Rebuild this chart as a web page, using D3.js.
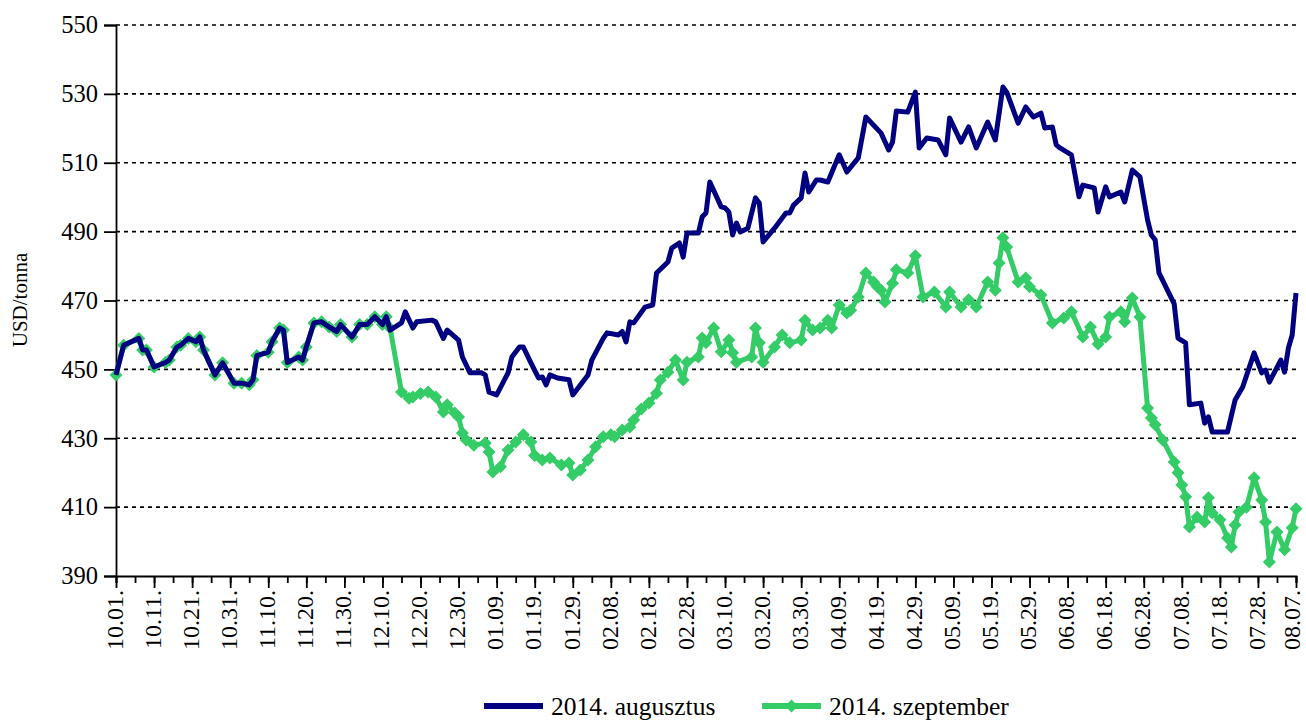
<!DOCTYPE html>
<html>
<head>
<meta charset="utf-8">
<script src="https://cdn.jsdelivr.net/npm/d3@7"></script>
<style>
  body { margin: 0; background: #fff; }
  text { font-family: "Liberation Serif", "Times New Roman", serif; fill: #000; }
</style>
</head>
<body>
<svg id="chart" width="1306" height="720"></svg>
<script>
// values (USD/tonna)
const augusztus = [
  ["2013-10-01",448.4],["2013-10-03",457],["2013-10-07",459],["2013-10-08",455.6],["2013-10-09",455.6],
  ["2013-10-11",450.7],["2013-10-14",452],["2013-10-15",452.7],["2013-10-17",456.5],["2013-10-18",457],
  ["2013-10-20",459],["2013-10-22",458],["2013-10-23",459.4],["2013-10-24",455.6],["2013-10-27",448.4],
  ["2013-10-29",451.9],["2013-11-01",446],["2013-11-03",446],["2013-11-05",445.5],["2013-11-06",447],
  ["2013-11-07",454],["2013-11-10",455],["2013-11-11",458],["2013-11-13",462],["2013-11-14",461.4],
  ["2013-11-15",452],["2013-11-18",453.6],["2013-11-19",452.7],["2013-11-20",456.5],["2013-11-22",463.5],
  ["2013-11-24",463.8],["2013-11-26",462.3],["2013-11-28",461],["2013-11-29",463],["2013-12-02",459.4],
  ["2013-12-04",463],["2013-12-06",463],["2013-12-08",465.3],["2013-12-10",463],["2013-12-11",465.3],
  ["2013-12-12",461.4],["2013-12-15",463.5],["2013-12-16",466.7],["2013-12-18",462],["2013-12-19",463.8],
  ["2013-12-23",464.3],["2013-12-24",463.8],["2013-12-26",459],["2013-12-27",461.4],["2013-12-30",458.5],
  ["2013-12-31",453.6],["2014-01-02",449],["2014-01-05",449],["2014-01-06",448.4],["2014-01-07",443.4],
  ["2014-01-09",442.6],["2014-01-12",449],["2014-01-13",453.6],["2014-01-15",456.5],["2014-01-16",456.5],
  ["2014-01-18",451.9],["2014-01-20",447.5],["2014-01-21",447.8],["2014-01-22",445.5],["2014-01-23",448.4],
  ["2014-01-25",447.5],["2014-01-28",447],["2014-01-29",442.6],["2014-01-30",444],["2014-02-02",448.4],
  ["2014-02-03",452.7],["2014-02-04",454.8],["2014-02-06",459],["2014-02-07",460.6],["2014-02-10",460],
  ["2014-02-11",461],["2014-02-12",458],["2014-02-13",463.8],["2014-02-14",463.5],["2014-02-17",468.1],
  ["2014-02-19",468.7],["2014-02-20",478],["2014-02-23",481.2],["2014-02-24",485.2],["2014-02-26",486.7],
  ["2014-02-27",482.6],["2014-02-28",489.6],["2014-03-03",489.6],["2014-03-04",494.3],["2014-03-05",495.4],
  ["2014-03-06",504.4],["2014-03-09",497.2],["2014-03-10",496.9],["2014-03-11",495.7],["2014-03-12",489],
  ["2014-03-13",492.5],["2014-03-14",489.9],["2014-03-16",491],["2014-03-18",499.8],["2014-03-19",498.3],
  ["2014-03-20",487],["2014-03-23",491],["2014-03-26",495.4],["2014-03-27",495.4],["2014-03-28",497.7],
  ["2014-03-30",499.8],["2014-03-31",507],["2014-04-01",501.5],["2014-04-03",505],["2014-04-04",505],
  ["2014-04-06",504.4],["2014-04-09",512.3],["2014-04-11",507.3],["2014-04-14",511.4],["2014-04-16",523.3],
  ["2014-04-20",518.6],["2014-04-22",513.7],["2014-04-23",516],["2014-04-24",525],["2014-04-27",524.7],
  ["2014-04-29",530.5],["2014-04-30",514.3],["2014-05-02",517.2],["2014-05-05",516.6],["2014-05-07",512.3],
  ["2014-05-08",523],["2014-05-11",516],["2014-05-13",520.4],["2014-05-15",514.3],["2014-05-18",521.8],
  ["2014-05-20",516.6],["2014-05-22",532],["2014-05-23",530.5],["2014-05-26",521.5],["2014-05-28",526.2],
  ["2014-05-30",523.3],["2014-06-01",524.4],["2014-06-02",520.1],["2014-06-04",520.4],["2014-06-05",515.2],
  ["2014-06-06",514.3],["2014-06-09",512.3],["2014-06-11",500.1],["2014-06-12",503.5],["2014-06-15",502.7],
  ["2014-06-16",495.7],["2014-06-18",503],["2014-06-19",500.1],["2014-06-22",501.5],["2014-06-23",498.6],
  ["2014-06-25",507.9],["2014-06-27",505.9],["2014-06-29",493.4],["2014-06-30",489],["2014-07-01",487.6],
  ["2014-07-02",478],["2014-07-06",469],["2014-07-07",459.1],["2014-07-09",457.7],["2014-07-10",439.7],
  ["2014-07-13",440.2],["2014-07-14",434.4],["2014-07-15",436.2],["2014-07-16",431.8],["2014-07-20",431.8],
  ["2014-07-22",441.1],["2014-07-24",444.9],["2014-07-27",454.8],["2014-07-29",449],["2014-07-30",449.8],
  ["2014-07-31",446.3],["2014-08-03",452.7],["2014-08-04",449.2],["2014-08-05",456.2],["2014-08-06",460],
  ["2014-08-07",472.2]
];

const szeptember = [
  ["2013-10-01",448.4],["2013-10-03",457],["2013-10-07",459],["2013-10-08",455.6],["2013-10-09",455.6],
  ["2013-10-11",450.7],["2013-10-14",452],["2013-10-15",452.7],["2013-10-17",456.5],["2013-10-18",457],
  ["2013-10-20",459],["2013-10-22",458],["2013-10-23",459.4],["2013-10-24",455.6],["2013-10-27",448.4],
  ["2013-10-29",451.9],["2013-11-01",446],["2013-11-03",446],["2013-11-05",445.5],["2013-11-06",447],
  ["2013-11-07",454],["2013-11-10",455],["2013-11-11",458],["2013-11-13",462],["2013-11-14",461.4],
  ["2013-11-15",452],["2013-11-18",453.6],["2013-11-19",452.7],["2013-11-20",456.5],["2013-11-22",463.5],
  ["2013-11-24",463.8],["2013-11-26",462.3],["2013-11-28",461],["2013-11-29",463],["2013-12-02",459.4],
  ["2013-12-04",463],["2013-12-06",463],["2013-12-08",465.3],["2013-12-10",463],["2013-12-11",465.3],
  ["2013-12-12",462],["2013-12-15",443.4],["2013-12-17",441.6],["2013-12-18",442],["2013-12-20",443],
  ["2013-12-22",443.4],["2013-12-24",442],["2013-12-26",437.6],["2013-12-27",439.7],["2013-12-29",437.3],
  ["2013-12-30",436.2],["2013-12-31",431.5],["2014-01-01",429.5],["2014-01-03",428],["2014-01-06",428.6],
  ["2014-01-07",426],["2014-01-08",420.2],["2014-01-10",421.7],["2014-01-12",426.6],["2014-01-14",428.9],
  ["2014-01-16",431],["2014-01-18",428.9],["2014-01-19",425],["2014-01-21",423.7],["2014-01-23",424.3],
  ["2014-01-26",422.2],["2014-01-28",422.8],["2014-01-29",419.3],["2014-01-31",420.8],["2014-02-02",423.7],
  ["2014-02-04",427.5],["2014-02-06",430.4],["2014-02-08",431],["2014-02-09",430.4],["2014-02-11",432.4],
  ["2014-02-13",433.3],["2014-02-14",435.3],["2014-02-16",438.5],["2014-02-18",440.2],["2014-02-20",443.1],
  ["2014-02-21",446.9],["2014-02-23",449.2],["2014-02-25",452.7],["2014-02-27",446.9],["2014-02-28",452.1],
  ["2014-03-03",453.6],["2014-03-04",459.1],["2014-03-05",457.7],["2014-03-07",462],["2014-03-09",455.1],
  ["2014-03-11",458.5],["2014-03-12",454.8],["2014-03-13",452.1],["2014-03-17",453.6],["2014-03-18",462],
  ["2014-03-19",457.7],["2014-03-20",452.1],["2014-03-23",456.5],["2014-03-25",460],["2014-03-27",457.7],
  ["2014-03-30",458.5],["2014-03-31",464.3],["2014-04-02",461.4],["2014-04-04",462],["2014-04-06",464.3],
  ["2014-04-07",462],["2014-04-09",468.7],["2014-04-11",466.4],["2014-04-12",467.2],["2014-04-14",471],
  ["2014-04-16",478],["2014-04-18",475.4],["2014-04-19",474],["2014-04-20",473],["2014-04-21",469.6],
  ["2014-04-23",475],["2014-04-24",478.9],["2014-04-27",478],["2014-04-29",483],["2014-05-01",471],
  ["2014-05-04",472.5],["2014-05-07",468.1],["2014-05-08",472.5],["2014-05-11",468.1],["2014-05-13",470.2],
  ["2014-05-15",468.1],["2014-05-18",475.4],["2014-05-20",473],["2014-05-21",480.9],["2014-05-22",488.2],
  ["2014-05-23",485.5],["2014-05-26",475.4],["2014-05-28",476.5],["2014-05-29",474],["2014-06-01",471.6],
  ["2014-06-04",463.5],["2014-06-07",464.9],["2014-06-09",466.7],["2014-06-12",459.4],["2014-06-14",462.3],
  ["2014-06-16",457.4],["2014-06-18",459.4],["2014-06-19",465.2],["2014-06-22",466.7],["2014-06-23",463.8],
  ["2014-06-25",470.7],["2014-06-27",465.2],["2014-06-29",438.8],["2014-06-30",435.9],["2014-07-01",433.9],
  ["2014-07-03",429.5],["2014-07-06",423.1],["2014-07-07",420],["2014-07-08",416.4],["2014-07-09",413],
  ["2014-07-10",404.2],["2014-07-12",407.1],["2014-07-14",405.7],["2014-07-15",412.7],["2014-07-16",408.3],
  ["2014-07-18",406.3],["2014-07-20",401],["2014-07-21",398.4],["2014-07-22",404.8],["2014-07-23",408.6],
  ["2014-07-25",410],["2014-07-27",418.5],["2014-07-29",412.1],["2014-07-30",405.7],["2014-07-31",394.1],
  ["2014-08-02",402.8],["2014-08-04",397.6],["2014-08-06",404],["2014-08-07",409.5]
];

const yTicks = [390, 410, 430, 450, 470, 490, 510, 530, 550];
const xTickDates = [
  "2013-10-01","2013-10-11","2013-10-21","2013-10-31","2013-11-10","2013-11-20","2013-11-30",
  "2013-12-10","2013-12-20","2013-12-30","2014-01-09","2014-01-19","2014-01-29","2014-02-08",
  "2014-02-18","2014-02-28","2014-03-10","2014-03-20","2014-03-30","2014-04-09","2014-04-19",
  "2014-04-29","2014-05-09","2014-05-19","2014-05-29","2014-06-08","2014-06-18","2014-06-28",
  "2014-07-08","2014-07-18","2014-07-28","2014-08-07"
];
const seriesNames = ["2014. augusztus", "2014. szeptember"];
const colors = ["#000080", "#33cc66"];

const parse = d3.utcParse("%Y-%m-%d");
const fmt = d3.utcFormat("%m.%d.");

const svg = d3.select("#chart");
const plotLeft = 116, plotRight = 1296, plotTop = 25, plotBottom = 576;

const x = d3.scaleUtc()
  .domain([parse(xTickDates[0]), parse(xTickDates[xTickDates.length - 1])])
  .range([plotLeft, plotRight]);
const y = d3.scaleLinear().domain([390, 550]).range([plotBottom, plotTop]);

// dotted grid
svg.append("g")
  .selectAll("line")
  .data(yTicks.slice(1))
  .join("line")
  .attr("x1", plotLeft).attr("x2", plotRight)
  .attr("y1", d => y(d)).attr("y2", d => y(d))
  .attr("stroke", "#000")
  .attr("stroke-width", 1.6)
  .attr("stroke-dasharray", "4,4");

// y axis
const yAxis = svg.append("g")
  .attr("transform", `translate(${plotLeft},0)`)
  .call(d3.axisLeft(y).tickValues(yTicks).tickSize(12).tickPadding(6));
yAxis.select(".domain").attr("stroke-width", 1.8);
yAxis.selectAll(".tick line").attr("stroke-width", 1.8);
yAxis.selectAll("text").style("font-size", "24.5px").attr("font-family", null);

svg.append("text")
  .attr("transform", "translate(27,300) rotate(-90)")
  .attr("text-anchor", "middle")
  .style("font-size", "21px")
  .text("USD/tonna");

// x axis: short ticks every 5 days, long ticks + labels every 10 days
const start = parse(xTickDates[0]);
const minorTicks = d3.range(0, 311, 5).map(i => d3.utcDay.offset(start, i));
const xAxis = svg.append("g")
  .attr("transform", `translate(0,${plotBottom})`)
  .call(d3.axisBottom(x).tickValues(minorTicks).tickSize(7).tickFormat(""));
xAxis.select(".domain").attr("stroke-width", 1.8);
xAxis.selectAll(".tick line").attr("stroke-width", 1.8);

const xMajor = svg.append("g")
  .attr("transform", `translate(0,${plotBottom})`)
  .call(d3.axisBottom(x).tickValues(xTickDates.map(parse)).tickSize(12).tickFormat(""));
xMajor.select(".domain").remove();
xMajor.selectAll(".tick line").attr("stroke-width", 1.8);

// last label nudged so it stays inside the page edge
const lastTick = xTickDates[xTickDates.length - 1];
svg.append("g")
  .selectAll("text")
  .data(xTickDates)
  .join("text")
  .attr("transform", d => `translate(${x(parse(d)) - (d === lastTick ? 3 : 0)},${plotBottom + 14}) rotate(-90)`)
  .attr("text-anchor", "end")
  .attr("dy", "0.28em")
  .style("font-size", "24px")
  .text(d => fmt(parse(d)));

// lines
const line = d3.line().x(d => x(parse(d[0]))).y(d => y(d[1]));
const diamond = "M0,-6.5L6.5,0L0,6.5L-6.5,0Z";

svg.append("path")
  .datum(szeptember)
  .attr("d", line)
  .attr("fill", "none")
  .attr("stroke", colors[1])
  .attr("stroke-width", 5)
  .attr("stroke-linejoin", "round");

svg.append("g")
  .selectAll("path")
  .data(szeptember)
  .join("path")
  .attr("transform", d => `translate(${x(parse(d[0]))},${y(d[1])})`)
  .attr("d", diamond)
  .attr("fill", colors[1]);

svg.append("path")
  .datum(augusztus)
  .attr("d", line)
  .attr("fill", "none")
  .attr("stroke", colors[0])
  .attr("stroke-width", 5)
  .attr("stroke-linejoin", "round");

// legend
const legend = svg.append("g");
const lx = [484, 762];
seriesNames.forEach((name, i) => {
  legend.append("line")
    .attr("x1", lx[i]).attr("x2", lx[i] + 59)
    .attr("y1", 706).attr("y2", 706)
    .attr("stroke", colors[i])
    .attr("stroke-width", 6);
  if (i === 1) {
    legend.append("path")
      .attr("transform", `translate(${lx[i] + 29.5},706)`)
      .attr("d", diamond)
      .attr("fill", colors[i]);
  }
  legend.append("text")
    .attr("x", lx[i] + 67)
    .attr("y", 706)
    .attr("dy", "0.35em")
    .style("font-size", "25.5px")
    .text(name);
});
</script>
</body>
</html>
